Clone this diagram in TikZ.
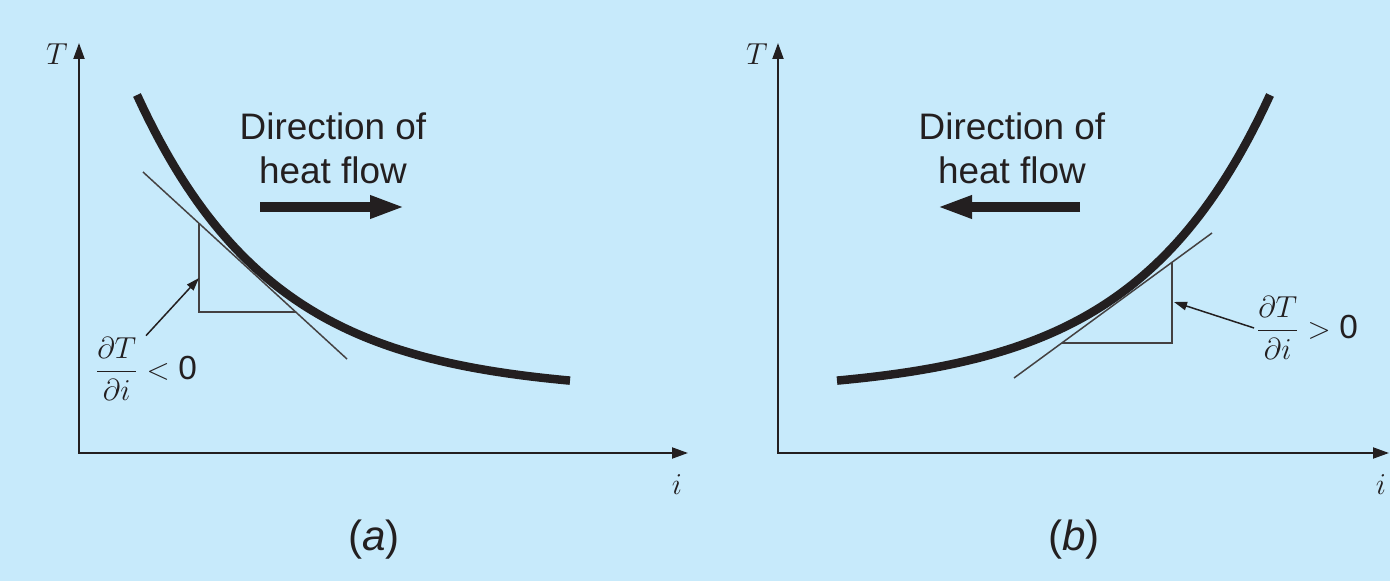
\documentclass[tikz,border=0pt]{standalone}
\usepackage{amsmath}
\usepackage{fontspec}
\setmainfont{Liberation Sans}
\usetikzlibrary{arrows.meta, positioning}
\definecolor{cSky}{RGB}{199,234,251}
\definecolor{cInk}{RGB}{35,31,32}
\tikzset{
  axisline/.style={{Triangle[length=0.32cm, width=0.22cm]}-{Triangle[length=0.32cm, width=0.22cm]},
                   line width=0.04cm, color=cInk},
  curveline/.style={line width=0.17cm, color=cInk},
  thinline/.style={line width=0.03cm, color=cInk!85},
  pointer/.style={-{Triangle[length=0.26cm, width=0.17cm]}, line width=0.03cm, color=cInk},
  flowarrow/.style={-{Triangle[length=0.7cm, width=0.42cm]}, line width=0.2cm, color=cInk},
  textlabel/.style={font=\fontsize{21}{25}\selectfont, text=cInk, align=center, inner sep=0pt},
  mathlabel/.style={font=\fontsize{19}{23}\selectfont, text=cInk, inner sep=1pt},
  caplabel/.style={font=\fontsize{24}{28}\selectfont, text=cInk, inner sep=0pt}
}

\begin{document}
\begin{tikzpicture}[x=0.02cm, y=-0.02cm]

  % Background
  \fill[cSky] (0,0) rectangle (1390,581);
  \useasboundingbox (0,0) rectangle (1390,581);

  % ---------------- Panel (a) ----------------
  \coordinate (oA) at (79,453);
  \coordinate (tA) at (79,43);
  \coordinate (iA) at (688,453);
  \draw[axisline] (tA) -- (oA) -- (iA);
  \node[mathlabel] (TA) at (57,54) {$T$};
  \node[mathlabel] (xA) at (677,485) {$i$};

  % Temperature profile
  \draw[curveline] plot[domain=137:570, samples=80]
      (\x, {393-298*exp(-0.00734*(\x-137))});

  % Tangent and slope triangle
  \coordinate (tanA1) at (143,172);
  \coordinate (tanA2) at (347,359);
  \draw[thinline] (tanA1) -- (tanA2);
  \coordinate (triA1) at (199,223);
  \coordinate (triA2) at (296,312);
  \draw[thinline] (triA1) |- (triA2);

  % Slope label
  \node[mathlabel] (slopeA) at (146,369) {$\dfrac{\partial T}{\partial i} < \text{0}$};
  \coordinate (ptA) at (199,278);
  \draw[pointer] (slopeA.north) -- (ptA);

  % Heat flow
  \node[textlabel] (dirA) at (333,148) {Direction of\\heat flow};
  \coordinate (flowA1) at (260,207);
  \coordinate (flowA2) at (405,207);
  \draw[flowarrow] (flowA1) -- (flowA2);

  \node[caplabel] (capA) at (374,540) {(\textit{a})};

  % ---------------- Panel (b) ----------------
  \coordinate (oB) at (778,453);
  \coordinate (tB) at (778,43);
  \coordinate (iB) at (1389,453);
  \draw[axisline] (tB) -- (oB) -- (iB);
  \node[mathlabel] (TB) at (757,54) {$T$};
  \node[mathlabel] (xB) at (1381,485) {$i$};

  % Temperature profile
  \draw[curveline] plot[domain=837:1270, samples=80]
      (\x, {393-298*exp(-0.00734*(1270-\x))});

  % Tangent and slope triangle
  \coordinate (tanB1) at (1014,378);
  \coordinate (tanB2) at (1212,233);
  \draw[thinline] (tanB1) -- (tanB2);
  \coordinate (triB1) at (1172,262);
  \coordinate (triB2) at (1062,343);
  \draw[thinline] (triB1) |- (triB2);

  % Slope label
  \node[mathlabel] (slopeB) at (1307,328) {$\dfrac{\partial T}{\partial i} > \text{0}$};
  \coordinate (ptB) at (1174,302);
  \draw[pointer] (slopeB.west) -- (ptB);

  % Heat flow
  \node[textlabel] (dirB) at (1012,148) {Direction of\\heat flow};
  \coordinate (flowB1) at (1080,207);
  \coordinate (flowB2) at (937,207);
  \draw[flowarrow] (flowB1) -- (flowB2);

  \node[caplabel] (capB) at (1074,540) {(\textit{b})};

\end{tikzpicture}
\end{document}
